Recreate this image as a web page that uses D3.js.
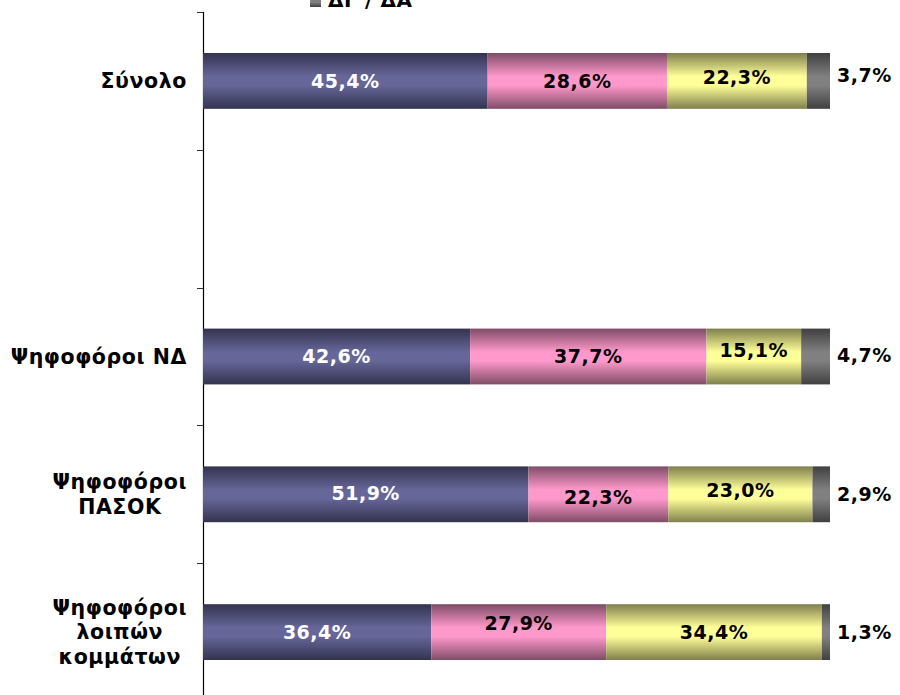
<!DOCTYPE html>
<html>
<head>
<meta charset="utf-8">
<script src="https://cdn.jsdelivr.net/npm/d3@7/dist/d3.min.js"></script>
<style>
  body { margin: 0; background: #fff; }
  text { font-family: Verdana, "DejaVu Sans", sans-serif; font-weight: bold; }
</style>
</head>
<body>
<svg id="chart"></svg>
<script>
// categories (the empty one is a spacer row in the original)
var categories = [["Σύνολο"], [""], ["Ψηφοφόροι ΝΔ"], ["Ψηφοφόροι", "ΠΑΣΟΚ"], ["Ψηφοφόροι", "λοιπών", "κομμάτων"]];
var seriesNames = ["s1", "s2", "s3", "ΔΓ / ΔΑ"];
var values = [
    [45.4, 28.6, 22.3, 3.7],
    null,
    [42.6, 37.7, 15.1, 4.7],
    [51.9, 22.3, 23.0, 2.9],
    [36.4, 27.9, 34.4, 1.3]
];
// small vertical nudges of the value labels, as placed in the original
var labelNudge = [
    [0, 0, -4, -6],
    null,
    [0, 0, -6, -1],
    [-1, 3, -4, 0],
    [0, -9, 0, 0]
];
var darkColors = ["#33334f", "#7f4c66", "#7f7f4c", "#404040"];
var lightColors = ["#666699", "#ff99cc", "#ffff99", "#808080"];
var labelColors = ["#ffffff", "#000000", "#000000", "#000000"];

var width = 900,
    height = 695;

var svg = d3.select("#chart")
    .attr("width", width)
    .attr("height", height);

var defs = svg.append("defs");
seriesNames.forEach(function (s, i) {
    var g = defs.append("linearGradient")
        .attr("id", "grad" + i)
        .attr("x1", 0).attr("y1", 0).attr("x2", 0).attr("y2", 1);
    g.append("stop").attr("offset", "0%").attr("stop-color", darkColors[i]);
    g.append("stop").attr("offset", "42%").attr("stop-color", lightColors[i]);
    g.append("stop").attr("offset", "58%").attr("stop-color", lightColors[i]);
    g.append("stop").attr("offset", "100%").attr("stop-color", darkColors[i]);
});

var x = d3.scaleLinear().domain([0, 100]).range([203, 830]);
var y = d3.scaleBand()
    .domain(d3.range(categories.length))
    .range([12, 701])
    .padding(0);

var barH = y.bandwidth() * 0.405;

// legend (cut off at the top in the original)
var legend = svg.append("g");
legend.append("rect")
    .attr("x", 310).attr("y", -4)
    .attr("width", 11).attr("height", 11)
    .attr("fill", "url(#grad3)");
legend.append("text")
    .attr("x", 328).attr("y", 7)
    .attr("font-size", 20)
    .attr("letter-spacing", 0.6)
    .text(seriesNames[3]);

// axis line + ticks at band boundaries
svg.append("line")
    .attr("x1", 203.5).attr("x2", 203.5)
    .attr("y1", 12).attr("y2", 701)
    .attr("stroke", "#000").attr("stroke-width", 1.2);

d3.range(categories.length + 1).forEach(function (i) {
    var ty = Math.round(12 + i * y.step()) + 0.5;
    svg.append("line")
        .attr("x1", 197).attr("x2", 203)
        .attr("y1", ty).attr("y2", ty)
        .attr("stroke", "#333").attr("stroke-width", 1);
});

// category labels: block right aligned, lines centred
var catSize = 20.5, catSpacing = 0.6;
var probe = svg.append("text").attr("font-size", catSize).attr("letter-spacing", catSpacing);
categories.forEach(function (lines, i) {
    var maxW = 0;
    lines.forEach(function (l) {
        probe.text(l);
        maxW = Math.max(maxW, probe.node().getComputedTextLength());
    });
    var cx = 187 - maxW / 2;
    var lh = 24.5;
    var cy = y(i) + y.bandwidth() / 2;
    var t = svg.append("text")
        .attr("font-size", catSize)
        .attr("letter-spacing", catSpacing)
        .attr("text-anchor", "middle")
        .attr("fill", "#000");
    lines.forEach(function (l, j) {
        t.append("tspan")
            .attr("x", cx)
            .attr("y", cy + (j - (lines.length - 1) / 2) * lh)
            .attr("dy", "0.36em")
            .text(l);
    });
});
probe.remove();

// bars
categories.forEach(function (c, i) {
    if (!values[i]) return;
    var vals = values[i];
    var cum = 0;
    var top = y(i) + (y.bandwidth() - barH) / 2;
    var cy = top + barH / 2;
    vals.forEach(function (v, k) {
        var x0 = x(cum);
        cum += v;
        var x1 = Math.min(x(cum), x(100));
        svg.append("rect")
            .attr("x", x0).attr("y", top)
            .attr("width", Math.max(0, x1 - x0))
            .attr("height", barH)
            .attr("fill", "url(#grad" + k + ")");
        var lbl = d3.format(".1f")(v).replace(".", ",") + "%";
        var last = k === vals.length - 1;
        svg.append("text")
            .attr("x", last ? x(100) + 7 : (x0 + x1) / 2)
            .attr("y", cy + labelNudge[i][k])
            .attr("dy", "0.36em")
            .attr("text-anchor", last ? "start" : "middle")
            .attr("font-size", 19)
            .attr("letter-spacing", 0.5)
            .attr("fill", last ? "#000" : labelColors[k])
            .text(lbl);
    });
});
</script>
</body>
</html>
